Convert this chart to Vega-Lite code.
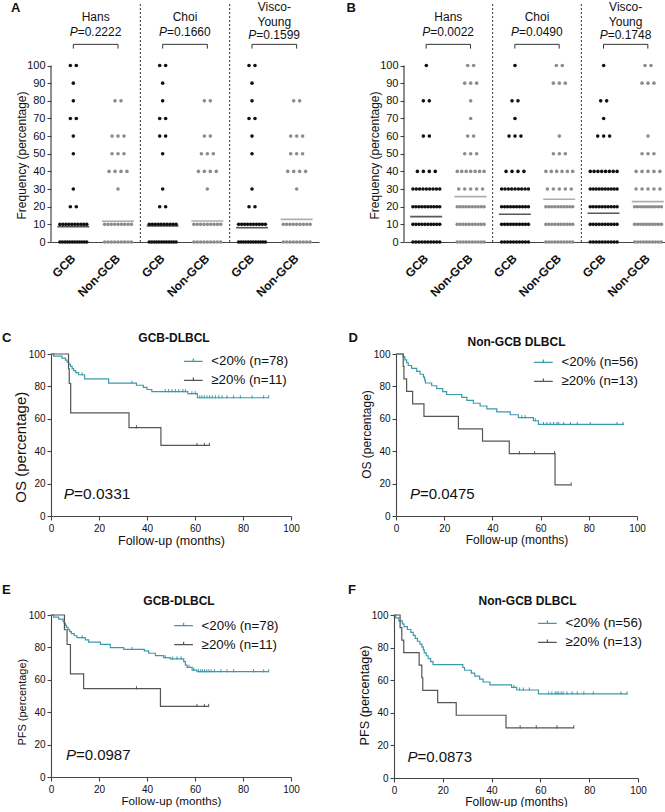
{
"$schema":"https://vega.github.io/schema/vega-lite/v6.json",
"padding":{"left":2,"top":0,"right":0,"bottom":0},
"config":{"font":"Liberation Sans","view":{"stroke":null},
"axis":{"grid":false,"domainColor":"#444","tickColor":"#444","labelColor":"#111","titleColor":"#111","titleFontWeight":"normal","labelOverlap":false,"domainWidth":1.1,"tickWidth":1.1,"tickSize":4,"labelPadding":2},
"text":{"color":"#111"}},
"spacing":32,
"resolve":{"scale":{"color":"independent"},"legend":{"color":"independent"}},
"vconcat":[
{"hconcat":[
{"width":268,"height":240,"layer":[
{"data":{"values":[
{"k":"HG","v":100},{"k":"HG","v":100},{"k":"HG","v":90},{"k":"HG","v":80},{"k":"HG","v":70},{"k":"HG","v":70},{"k":"HG","v":60},{"k":"HG","v":50},{"k":"HG","v":30},{"k":"HG","v":20},{"k":"HG","v":20},
{"k":"HG","v":10},{"k":"HG","v":10},{"k":"HG","v":10},{"k":"HG","v":10},{"k":"HG","v":10},{"k":"HG","v":10},{"k":"HG","v":10},{"k":"HG","v":10},{"k":"HG","v":10},{"k":"HG","v":10},
{"k":"HG","v":0},{"k":"HG","v":0},{"k":"HG","v":0},{"k":"HG","v":0},{"k":"HG","v":0},{"k":"HG","v":0},{"k":"HG","v":0},{"k":"HG","v":0},{"k":"HG","v":0},{"k":"HG","v":0},{"k":"HG","v":0},{"k":"HG","v":0},
{"k":"HN","v":80},{"k":"HN","v":80},{"k":"HN","v":60},{"k":"HN","v":60},{"k":"HN","v":60},{"k":"HN","v":50},{"k":"HN","v":50},{"k":"HN","v":50},{"k":"HN","v":40},{"k":"HN","v":40},{"k":"HN","v":40},{"k":"HN","v":40},{"k":"HN","v":30},
{"k":"HN","v":10},{"k":"HN","v":10},{"k":"HN","v":10},{"k":"HN","v":10},{"k":"HN","v":10},{"k":"HN","v":10},{"k":"HN","v":10},{"k":"HN","v":10},{"k":"HN","v":10},
{"k":"HN","v":0},{"k":"HN","v":0},{"k":"HN","v":0},{"k":"HN","v":0},{"k":"HN","v":0},{"k":"HN","v":0},{"k":"HN","v":0},{"k":"HN","v":0},{"k":"HN","v":0},
{"k":"CG","v":100},{"k":"CG","v":100},{"k":"CG","v":90},{"k":"CG","v":80},{"k":"CG","v":70},{"k":"CG","v":70},{"k":"CG","v":60},{"k":"CG","v":60},{"k":"CG","v":50},{"k":"CG","v":30},{"k":"CG","v":20},{"k":"CG","v":20},
{"k":"CG","v":10},{"k":"CG","v":10},{"k":"CG","v":10},{"k":"CG","v":10},{"k":"CG","v":10},{"k":"CG","v":10},{"k":"CG","v":10},{"k":"CG","v":10},{"k":"CG","v":10},{"k":"CG","v":10},
{"k":"CG","v":0},{"k":"CG","v":0},{"k":"CG","v":0},{"k":"CG","v":0},{"k":"CG","v":0},{"k":"CG","v":0},{"k":"CG","v":0},{"k":"CG","v":0},{"k":"CG","v":0},{"k":"CG","v":0},{"k":"CG","v":0},{"k":"CG","v":0},
{"k":"CN","v":80},{"k":"CN","v":80},{"k":"CN","v":60},{"k":"CN","v":60},{"k":"CN","v":50},{"k":"CN","v":50},{"k":"CN","v":50},{"k":"CN","v":40},{"k":"CN","v":40},{"k":"CN","v":40},{"k":"CN","v":40},{"k":"CN","v":30},
{"k":"CN","v":10},{"k":"CN","v":10},{"k":"CN","v":10},{"k":"CN","v":10},{"k":"CN","v":10},{"k":"CN","v":10},{"k":"CN","v":10},{"k":"CN","v":10},{"k":"CN","v":10},
{"k":"CN","v":0},{"k":"CN","v":0},{"k":"CN","v":0},{"k":"CN","v":0},{"k":"CN","v":0},{"k":"CN","v":0},{"k":"CN","v":0},{"k":"CN","v":0},{"k":"CN","v":0},
{"k":"VG","v":100},{"k":"VG","v":100},{"k":"VG","v":90},{"k":"VG","v":80},{"k":"VG","v":70},{"k":"VG","v":70},{"k":"VG","v":60},{"k":"VG","v":50},{"k":"VG","v":30},{"k":"VG","v":20},{"k":"VG","v":20},
{"k":"VG","v":10},{"k":"VG","v":10},{"k":"VG","v":10},{"k":"VG","v":10},{"k":"VG","v":10},{"k":"VG","v":10},{"k":"VG","v":10},{"k":"VG","v":10},{"k":"VG","v":10},{"k":"VG","v":10},
{"k":"VG","v":0},{"k":"VG","v":0},{"k":"VG","v":0},{"k":"VG","v":0},{"k":"VG","v":0},{"k":"VG","v":0},{"k":"VG","v":0},{"k":"VG","v":0},{"k":"VG","v":0},{"k":"VG","v":0},{"k":"VG","v":0},{"k":"VG","v":0},
{"k":"VN","v":80},{"k":"VN","v":80},{"k":"VN","v":60},{"k":"VN","v":60},{"k":"VN","v":60},{"k":"VN","v":50},{"k":"VN","v":50},{"k":"VN","v":50},{"k":"VN","v":40},{"k":"VN","v":40},{"k":"VN","v":40},{"k":"VN","v":40},{"k":"VN","v":30},
{"k":"VN","v":10},{"k":"VN","v":10},{"k":"VN","v":10},{"k":"VN","v":10},{"k":"VN","v":10},{"k":"VN","v":10},{"k":"VN","v":10},{"k":"VN","v":10},{"k":"VN","v":10},
{"k":"VN","v":0},{"k":"VN","v":0},{"k":"VN","v":0},{"k":"VN","v":0},{"k":"VN","v":0},{"k":"VN","v":0},{"k":"VN","v":0},{"k":"VN","v":0},{"k":"VN","v":0}
]},
"transform":[{"window":[{"op":"row_number","as":"r"}],"groupby":["k","v"]},{"joinaggregate":[{"op":"count","as":"n"}],"groupby":["k","v"]},{"calculate":"(datum.r-(datum.n+1)/2)*min(2,9/max(datum.n-1,1))","as":"o"}],
"mark":{"type":"circle","size":13,"opacity":1},
"encoding":{
"x":{"field":"k","type":"nominal","scale":{"type":"band","domain":["HG","HN","CG","CN","VG","VN"],"paddingInner":0,"paddingOuter":0},"axis":{"title":null,"labelExpr":"substring(datum.label,1,2)=='G'?'GCB':'Non-GCB'","labelAngle":-45,"labelAlign":"right","labelBaseline":"middle","labelFontWeight":"bold","labelFontSize":12,"ticks":false,"tickSize":0,"labelPadding":14,"domainWidth":1.2,"labelOverlap":false}},
"xOffset":{"field":"o","type":"quantitative","scale":{"domain":[-7.5,7.5],"nice":false,"zero":false}},
"y":{"field":"v","type":"quantitative","scale":{"domain":[0,136],"nice":false},"axis":{"title":"Frequency (percentage)","values":[0,10,20,30,40,50,60,70,80,90,100],"tickCount":30,"labelOverlap":false,"domain":false,"labelFontSize":11,"titleFontSize":12,"titleX":-30,"titleY":153,"titleBaseline":"middle","titleAlign":"center","titleAngle":-90}},
"color":{"field":"k","type":"nominal","scale":{"domain":["HG","HN","CG","CN","VG","VN"],"range":["#111111","#8c8c8c","#111111","#8c8c8c","#111111","#8c8c8c"]},"legend":null}}},
{"data":{"values":[{"k":"HG","m":8.7},{"k":"HN","m":11.8},{"k":"CG","m":9.1},{"k":"CN","m":11.9},{"k":"VG","m":8.1},{"k":"VN","m":12.8}]},
"mark":{"type":"tick","size":32,"thickness":1.6},
"encoding":{"x":{"field":"k","type":"nominal","scale":{"type":"band","domain":["HG","HN","CG","CN","VG","VN"],"paddingInner":0,"paddingOuter":0}},"y":{"field":"m","type":"quantitative","scale":{"domain":[0,136],"nice":false}},"color":{"field":"k","type":"nominal","scale":{"domain":["HG","HN","CG","CN","VG","VN"],"range":["#111111","#8c8c8c","#111111","#8c8c8c","#111111","#8c8c8c"]},"legend":null}}},
{"data":{"values":[{"k":"CG"},{"k":"VG"}]},"mark":{"type":"rule","strokeDash":[2,2],"color":"#333","strokeWidth":1},
"encoding":{"x":{"field":"k","type":"nominal","bandPosition":0,"scale":{"type":"band","domain":["HG","HN","CG","CN","VG","VN"],"paddingInner":0,"paddingOuter":0}},"y":{"datum":0,"type":"quantitative","scale":{"domain":[0,136],"nice":false}},"y2":{"datum":136}}},
{"data":{"values":[{"k":"HG"}]},"mark":{"type":"rule","color":"#444","strokeWidth":1.2},
"encoding":{"x":{"field":"k","type":"nominal","bandPosition":0,"scale":{"type":"band","domain":["HG","HN","CG","CN","VG","VN"],"paddingInner":0,"paddingOuter":0}},"y":{"datum":0,"type":"quantitative","scale":{"domain":[0,136],"nice":false}},"y2":{"datum":100}}},
{"data":{"values":[{"k":"HG","k2":"HN"},{"k":"CG","k2":"CN"},{"k":"VG","k2":"VN"}]},"mark":{"type":"rule","color":"#333","strokeWidth":1},
"encoding":{"x":{"field":"k","type":"nominal","scale":{"type":"band","domain":["HG","HN","CG","CN","VG","VN"],"paddingInner":0,"paddingOuter":0}},"x2":{"field":"k2"},"y":{"datum":112,"type":"quantitative","scale":{"domain":[0,136],"nice":false}}}},
{"data":{"values":[{"k":"HG"},{"k":"HN"},{"k":"CG"},{"k":"CN"},{"k":"VG"},{"k":"VN"}]},"mark":{"type":"rule","color":"#333","strokeWidth":1},
"encoding":{"x":{"field":"k","type":"nominal","scale":{"type":"band","domain":["HG","HN","CG","CN","VG","VN"],"paddingInner":0,"paddingOuter":0}},"y":{"datum":109.6,"type":"quantitative","scale":{"domain":[0,136],"nice":false}},"y2":{"datum":112}}},
{"data":{"values":[{"k":"HG","t":"Hans"},{"k":"CG","t":"Choi"}]},"mark":{"type":"text","fontSize":12,"align":"center","baseline":"middle"},
"encoding":{"x":{"field":"k","type":"nominal","bandPosition":1,"scale":{"type":"band","domain":["HG","HN","CG","CN","VG","VN"],"paddingInner":0,"paddingOuter":0}},"y":{"datum":127.4,"type":"quantitative","scale":{"domain":[0,136],"nice":false}},"text":{"field":"t"}}},
{"data":{"values":[{"k":"VG","t":"Visco-"}]},"mark":{"type":"text","fontSize":12,"align":"center","baseline":"middle"},
"encoding":{"x":{"field":"k","type":"nominal","bandPosition":1,"scale":{"type":"band","domain":["HG","HN","CG","CN","VG","VN"],"paddingInner":0,"paddingOuter":0}},"y":{"datum":133.3,"type":"quantitative","scale":{"domain":[0,136],"nice":false}},"text":{"field":"t"}}},
{"data":{"values":[{"k":"VG","t":"Young"}]},"mark":{"type":"text","fontSize":12,"align":"center","baseline":"middle"},
"encoding":{"x":{"field":"k","type":"nominal","bandPosition":1,"scale":{"type":"band","domain":["HG","HN","CG","CN","VG","VN"],"paddingInner":0,"paddingOuter":0}},"y":{"datum":124.6,"type":"quantitative","scale":{"domain":[0,136],"nice":false}},"text":{"field":"t"}}},
{"data":{"values":[{"k":"HG","t":"P"},{"k":"CG","t":"P"}]},"mark":{"type":"text","fontSize":12,"fontStyle":"italic","align":"right","baseline":"middle","dx":-18},
"encoding":{"x":{"field":"k","type":"nominal","bandPosition":1,"scale":{"type":"band","domain":["HG","HN","CG","CN","VG","VN"],"paddingInner":0,"paddingOuter":0}},"y":{"datum":118.9,"type":"quantitative","scale":{"domain":[0,136],"nice":false}},"text":{"field":"t"}}},
{"data":{"values":[{"k":"HG","t":"=0.2222"},{"k":"CG","t":"=0.1660"}]},"mark":{"type":"text","fontSize":12,"align":"left","baseline":"middle","dx":-18},
"encoding":{"x":{"field":"k","type":"nominal","bandPosition":1,"scale":{"type":"band","domain":["HG","HN","CG","CN","VG","VN"],"paddingInner":0,"paddingOuter":0}},"y":{"datum":118.9,"type":"quantitative","scale":{"domain":[0,136],"nice":false}},"text":{"field":"t"}}},
{"data":{"values":[{"k":"VG","t":"P"}]},"mark":{"type":"text","fontSize":12,"fontStyle":"italic","align":"right","baseline":"middle","dx":-18},
"encoding":{"x":{"field":"k","type":"nominal","bandPosition":1,"scale":{"type":"band","domain":["HG","HN","CG","CN","VG","VN"],"paddingInner":0,"paddingOuter":0}},"y":{"datum":117.1,"type":"quantitative","scale":{"domain":[0,136],"nice":false}},"text":{"field":"t"}}},
{"data":{"values":[{"k":"VG","t":"=0.1599"}]},"mark":{"type":"text","fontSize":12,"align":"left","baseline":"middle","dx":-18},
"encoding":{"x":{"field":"k","type":"nominal","bandPosition":1,"scale":{"type":"band","domain":["HG","HN","CG","CN","VG","VN"],"paddingInner":0,"paddingOuter":0}},"y":{"datum":117.1,"type":"quantitative","scale":{"domain":[0,136],"nice":false}},"text":{"field":"t"}}},
{"data":{"values":[{"k":"HG","t":"A"}]},"mark":{"type":"text","fontSize":13,"fontWeight":"bold","align":"left","baseline":"middle","dx":-40,"dy":6},
"encoding":{"x":{"field":"k","type":"nominal","bandPosition":0,"scale":{"type":"band","domain":["HG","HN","CG","CN","VG","VN"],"paddingInner":0,"paddingOuter":0}},"y":{"datum":136,"type":"quantitative","scale":{"domain":[0,136],"nice":false}},"text":{"field":"t"}}}
]},
{"width":266,"height":240,"layer":[
{"data":{"values":[
{"k":"HG","v":100},{"k":"HG","v":80},{"k":"HG","v":80},{"k":"HG","v":60},{"k":"HG","v":60},{"k":"HG","v":40},{"k":"HG","v":40},{"k":"HG","v":40},{"k":"HG","v":40},
{"k":"HG","v":30},{"k":"HG","v":30},{"k":"HG","v":30},{"k":"HG","v":30},{"k":"HG","v":30},{"k":"HG","v":30},{"k":"HG","v":30},{"k":"HG","v":30},{"k":"HG","v":30},
{"k":"HG","v":20},{"k":"HG","v":20},{"k":"HG","v":20},{"k":"HG","v":20},{"k":"HG","v":20},{"k":"HG","v":20},{"k":"HG","v":20},{"k":"HG","v":20},{"k":"HG","v":20},{"k":"HG","v":20},
{"k":"HG","v":10},{"k":"HG","v":10},{"k":"HG","v":10},{"k":"HG","v":10},{"k":"HG","v":10},{"k":"HG","v":10},{"k":"HG","v":10},{"k":"HG","v":10},{"k":"HG","v":10},{"k":"HG","v":10},
{"k":"HG","v":0},{"k":"HG","v":0},{"k":"HG","v":0},{"k":"HG","v":0},{"k":"HG","v":0},{"k":"HG","v":0},{"k":"HG","v":0},{"k":"HG","v":0},{"k":"HG","v":0},{"k":"HG","v":0},
{"k":"HN","v":100},{"k":"HN","v":100},{"k":"HN","v":90},{"k":"HN","v":90},{"k":"HN","v":90},{"k":"HN","v":80},{"k":"HN","v":70},{"k":"HN","v":60},{"k":"HN","v":60},{"k":"HN","v":50},{"k":"HN","v":50},{"k":"HN","v":50},
{"k":"HN","v":40},{"k":"HN","v":40},{"k":"HN","v":40},{"k":"HN","v":40},{"k":"HN","v":40},{"k":"HN","v":40},{"k":"HN","v":40},
{"k":"HN","v":30},{"k":"HN","v":30},{"k":"HN","v":30},{"k":"HN","v":30},{"k":"HN","v":30},
{"k":"HN","v":20},{"k":"HN","v":20},{"k":"HN","v":20},{"k":"HN","v":20},{"k":"HN","v":20},{"k":"HN","v":20},{"k":"HN","v":20},{"k":"HN","v":20},{"k":"HN","v":20},{"k":"HN","v":20},
{"k":"HN","v":10},{"k":"HN","v":10},{"k":"HN","v":10},{"k":"HN","v":10},{"k":"HN","v":10},{"k":"HN","v":10},{"k":"HN","v":10},{"k":"HN","v":10},{"k":"HN","v":10},{"k":"HN","v":10},
{"k":"HN","v":0},{"k":"HN","v":0},{"k":"HN","v":0},{"k":"HN","v":0},{"k":"HN","v":0},{"k":"HN","v":0},{"k":"HN","v":0},{"k":"HN","v":0},{"k":"HN","v":0},{"k":"HN","v":0},
{"k":"CG","v":100},{"k":"CG","v":80},{"k":"CG","v":80},{"k":"CG","v":70},{"k":"CG","v":60},{"k":"CG","v":60},{"k":"CG","v":60},{"k":"CG","v":40},{"k":"CG","v":40},{"k":"CG","v":40},{"k":"CG","v":40},
{"k":"CG","v":30},{"k":"CG","v":30},{"k":"CG","v":30},{"k":"CG","v":30},{"k":"CG","v":30},{"k":"CG","v":30},{"k":"CG","v":30},{"k":"CG","v":30},{"k":"CG","v":30},
{"k":"CG","v":20},{"k":"CG","v":20},{"k":"CG","v":20},{"k":"CG","v":20},{"k":"CG","v":20},{"k":"CG","v":20},{"k":"CG","v":20},{"k":"CG","v":20},{"k":"CG","v":20},{"k":"CG","v":20},
{"k":"CG","v":10},{"k":"CG","v":10},{"k":"CG","v":10},{"k":"CG","v":10},{"k":"CG","v":10},{"k":"CG","v":10},{"k":"CG","v":10},{"k":"CG","v":10},{"k":"CG","v":10},{"k":"CG","v":10},
{"k":"CG","v":0},{"k":"CG","v":0},{"k":"CG","v":0},{"k":"CG","v":0},{"k":"CG","v":0},{"k":"CG","v":0},{"k":"CG","v":0},{"k":"CG","v":0},{"k":"CG","v":0},{"k":"CG","v":0},
{"k":"CN","v":100},{"k":"CN","v":100},{"k":"CN","v":90},{"k":"CN","v":90},{"k":"CN","v":90},{"k":"CN","v":60},{"k":"CN","v":50},{"k":"CN","v":50},{"k":"CN","v":50},
{"k":"CN","v":40},{"k":"CN","v":40},{"k":"CN","v":40},{"k":"CN","v":40},{"k":"CN","v":40},{"k":"CN","v":40},
{"k":"CN","v":30},{"k":"CN","v":30},{"k":"CN","v":30},{"k":"CN","v":30},{"k":"CN","v":30},
{"k":"CN","v":20},{"k":"CN","v":20},{"k":"CN","v":20},{"k":"CN","v":20},{"k":"CN","v":20},{"k":"CN","v":20},{"k":"CN","v":20},{"k":"CN","v":20},{"k":"CN","v":20},{"k":"CN","v":20},
{"k":"CN","v":10},{"k":"CN","v":10},{"k":"CN","v":10},{"k":"CN","v":10},{"k":"CN","v":10},{"k":"CN","v":10},{"k":"CN","v":10},{"k":"CN","v":10},{"k":"CN","v":10},{"k":"CN","v":10},
{"k":"CN","v":0},{"k":"CN","v":0},{"k":"CN","v":0},{"k":"CN","v":0},{"k":"CN","v":0},{"k":"CN","v":0},{"k":"CN","v":0},{"k":"CN","v":0},{"k":"CN","v":0},{"k":"CN","v":0},
{"k":"VG","v":100},{"k":"VG","v":80},{"k":"VG","v":80},{"k":"VG","v":70},{"k":"VG","v":60},{"k":"VG","v":60},{"k":"VG","v":60},
{"k":"VG","v":40},{"k":"VG","v":40},{"k":"VG","v":40},{"k":"VG","v":40},{"k":"VG","v":40},{"k":"VG","v":40},{"k":"VG","v":40},{"k":"VG","v":40},
{"k":"VG","v":30},{"k":"VG","v":30},{"k":"VG","v":30},{"k":"VG","v":30},{"k":"VG","v":30},{"k":"VG","v":30},{"k":"VG","v":30},{"k":"VG","v":30},{"k":"VG","v":30},{"k":"VG","v":30},
{"k":"VG","v":20},{"k":"VG","v":20},{"k":"VG","v":20},{"k":"VG","v":20},{"k":"VG","v":20},{"k":"VG","v":20},{"k":"VG","v":20},{"k":"VG","v":20},{"k":"VG","v":20},{"k":"VG","v":20},
{"k":"VG","v":10},{"k":"VG","v":10},{"k":"VG","v":10},{"k":"VG","v":10},{"k":"VG","v":10},{"k":"VG","v":10},{"k":"VG","v":10},{"k":"VG","v":10},{"k":"VG","v":10},{"k":"VG","v":10},
{"k":"VG","v":0},{"k":"VG","v":0},{"k":"VG","v":0},{"k":"VG","v":0},{"k":"VG","v":0},{"k":"VG","v":0},{"k":"VG","v":0},{"k":"VG","v":0},{"k":"VG","v":0},{"k":"VG","v":0},
{"k":"VN","v":100},{"k":"VN","v":100},{"k":"VN","v":90},{"k":"VN","v":90},{"k":"VN","v":90},{"k":"VN","v":60},{"k":"VN","v":50},{"k":"VN","v":50},{"k":"VN","v":50},
{"k":"VN","v":40},{"k":"VN","v":40},{"k":"VN","v":40},{"k":"VN","v":40},{"k":"VN","v":40},
{"k":"VN","v":30},{"k":"VN","v":30},{"k":"VN","v":30},{"k":"VN","v":30},{"k":"VN","v":30},
{"k":"VN","v":20},{"k":"VN","v":20},{"k":"VN","v":20},{"k":"VN","v":20},{"k":"VN","v":20},{"k":"VN","v":20},{"k":"VN","v":20},{"k":"VN","v":20},{"k":"VN","v":20},{"k":"VN","v":20},
{"k":"VN","v":10},{"k":"VN","v":10},{"k":"VN","v":10},{"k":"VN","v":10},{"k":"VN","v":10},{"k":"VN","v":10},{"k":"VN","v":10},{"k":"VN","v":10},{"k":"VN","v":10},{"k":"VN","v":10},
{"k":"VN","v":0},{"k":"VN","v":0},{"k":"VN","v":0},{"k":"VN","v":0},{"k":"VN","v":0},{"k":"VN","v":0},{"k":"VN","v":0},{"k":"VN","v":0},{"k":"VN","v":0},{"k":"VN","v":0}
]},
"transform":[{"window":[{"op":"row_number","as":"r"}],"groupby":["k","v"]},{"joinaggregate":[{"op":"count","as":"n"}],"groupby":["k","v"]},{"calculate":"(datum.r-(datum.n+1)/2)*min(2,9/max(datum.n-1,1))","as":"o"}],
"mark":{"type":"circle","size":13,"opacity":1},
"encoding":{
"x":{"field":"k","type":"nominal","scale":{"type":"band","domain":["HG","HN","CG","CN","VG","VN"],"paddingInner":0,"paddingOuter":0},"axis":{"title":null,"labelExpr":"substring(datum.label,1,2)=='G'?'GCB':'Non-GCB'","labelAngle":-45,"labelAlign":"right","labelBaseline":"middle","labelFontWeight":"bold","labelFontSize":12,"ticks":false,"tickSize":0,"labelPadding":14,"domainWidth":1.2,"labelOverlap":false}},
"xOffset":{"field":"o","type":"quantitative","scale":{"domain":[-7.5,7.5],"nice":false,"zero":false}},
"y":{"field":"v","type":"quantitative","scale":{"domain":[0,136],"nice":false},"axis":{"title":"Frequency (percentage)","values":[0,10,20,30,40,50,60,70,80,90,100],"tickCount":30,"labelOverlap":false,"domain":false,"labelFontSize":11,"titleFontSize":12,"titleX":-30,"titleY":153,"titleBaseline":"middle","titleAlign":"center","titleAngle":-90}},
"color":{"field":"k","type":"nominal","scale":{"domain":["HG","HN","CG","CN","VG","VN"],"range":["#111111","#8c8c8c","#111111","#8c8c8c","#111111","#8c8c8c"]},"legend":null}}},
{"data":{"values":[{"k":"HG","m":14.4},{"k":"HN","m":25.7},{"k":"CG","m":15.7},{"k":"CN","m":24.2},{"k":"VG","m":16.3},{"k":"VN","m":22.9}]},
"mark":{"type":"tick","size":32,"thickness":1.6},
"encoding":{"x":{"field":"k","type":"nominal","scale":{"type":"band","domain":["HG","HN","CG","CN","VG","VN"],"paddingInner":0,"paddingOuter":0}},"y":{"field":"m","type":"quantitative","scale":{"domain":[0,136],"nice":false}},"color":{"field":"k","type":"nominal","scale":{"domain":["HG","HN","CG","CN","VG","VN"],"range":["#111111","#8c8c8c","#111111","#8c8c8c","#111111","#8c8c8c"]},"legend":null}}},
{"data":{"values":[{"k":"CG"},{"k":"VG"}]},"mark":{"type":"rule","strokeDash":[2,2],"color":"#333","strokeWidth":1},
"encoding":{"x":{"field":"k","type":"nominal","bandPosition":0,"scale":{"type":"band","domain":["HG","HN","CG","CN","VG","VN"],"paddingInner":0,"paddingOuter":0}},"y":{"datum":0,"type":"quantitative","scale":{"domain":[0,136],"nice":false}},"y2":{"datum":136}}},
{"data":{"values":[{"k":"HG"}]},"mark":{"type":"rule","color":"#444","strokeWidth":1.2},
"encoding":{"x":{"field":"k","type":"nominal","bandPosition":0,"scale":{"type":"band","domain":["HG","HN","CG","CN","VG","VN"],"paddingInner":0,"paddingOuter":0}},"y":{"datum":0,"type":"quantitative","scale":{"domain":[0,136],"nice":false}},"y2":{"datum":100}}},
{"data":{"values":[{"k":"HG","k2":"HN"},{"k":"CG","k2":"CN"},{"k":"VG","k2":"VN"}]},"mark":{"type":"rule","color":"#333","strokeWidth":1},
"encoding":{"x":{"field":"k","type":"nominal","scale":{"type":"band","domain":["HG","HN","CG","CN","VG","VN"],"paddingInner":0,"paddingOuter":0}},"x2":{"field":"k2"},"y":{"datum":112,"type":"quantitative","scale":{"domain":[0,136],"nice":false}}}},
{"data":{"values":[{"k":"HG"},{"k":"HN"},{"k":"CG"},{"k":"CN"},{"k":"VG"},{"k":"VN"}]},"mark":{"type":"rule","color":"#333","strokeWidth":1},
"encoding":{"x":{"field":"k","type":"nominal","scale":{"type":"band","domain":["HG","HN","CG","CN","VG","VN"],"paddingInner":0,"paddingOuter":0}},"y":{"datum":109.6,"type":"quantitative","scale":{"domain":[0,136],"nice":false}},"y2":{"datum":112}}},
{"data":{"values":[{"k":"HG","t":"Hans"},{"k":"CG","t":"Choi"}]},"mark":{"type":"text","fontSize":12,"align":"center","baseline":"middle"},
"encoding":{"x":{"field":"k","type":"nominal","bandPosition":1,"scale":{"type":"band","domain":["HG","HN","CG","CN","VG","VN"],"paddingInner":0,"paddingOuter":0}},"y":{"datum":127.4,"type":"quantitative","scale":{"domain":[0,136],"nice":false}},"text":{"field":"t"}}},
{"data":{"values":[{"k":"VG","t":"Visco-"}]},"mark":{"type":"text","fontSize":12,"align":"center","baseline":"middle"},
"encoding":{"x":{"field":"k","type":"nominal","bandPosition":1,"scale":{"type":"band","domain":["HG","HN","CG","CN","VG","VN"],"paddingInner":0,"paddingOuter":0}},"y":{"datum":133.3,"type":"quantitative","scale":{"domain":[0,136],"nice":false}},"text":{"field":"t"}}},
{"data":{"values":[{"k":"VG","t":"Young"}]},"mark":{"type":"text","fontSize":12,"align":"center","baseline":"middle"},
"encoding":{"x":{"field":"k","type":"nominal","bandPosition":1,"scale":{"type":"band","domain":["HG","HN","CG","CN","VG","VN"],"paddingInner":0,"paddingOuter":0}},"y":{"datum":124.6,"type":"quantitative","scale":{"domain":[0,136],"nice":false}},"text":{"field":"t"}}},
{"data":{"values":[{"k":"HG","t":"P"},{"k":"CG","t":"P"}]},"mark":{"type":"text","fontSize":12,"fontStyle":"italic","align":"right","baseline":"middle","dx":-18},
"encoding":{"x":{"field":"k","type":"nominal","bandPosition":1,"scale":{"type":"band","domain":["HG","HN","CG","CN","VG","VN"],"paddingInner":0,"paddingOuter":0}},"y":{"datum":118.9,"type":"quantitative","scale":{"domain":[0,136],"nice":false}},"text":{"field":"t"}}},
{"data":{"values":[{"k":"HG","t":"=0.0022"},{"k":"CG","t":"=0.0490"}]},"mark":{"type":"text","fontSize":12,"align":"left","baseline":"middle","dx":-18},
"encoding":{"x":{"field":"k","type":"nominal","bandPosition":1,"scale":{"type":"band","domain":["HG","HN","CG","CN","VG","VN"],"paddingInner":0,"paddingOuter":0}},"y":{"datum":118.9,"type":"quantitative","scale":{"domain":[0,136],"nice":false}},"text":{"field":"t"}}},
{"data":{"values":[{"k":"VG","t":"P"}]},"mark":{"type":"text","fontSize":12,"fontStyle":"italic","align":"right","baseline":"middle","dx":-18},
"encoding":{"x":{"field":"k","type":"nominal","bandPosition":1,"scale":{"type":"band","domain":["HG","HN","CG","CN","VG","VN"],"paddingInner":0,"paddingOuter":0}},"y":{"datum":117.1,"type":"quantitative","scale":{"domain":[0,136],"nice":false}},"text":{"field":"t"}}},
{"data":{"values":[{"k":"VG","t":"=0.1748"}]},"mark":{"type":"text","fontSize":12,"align":"left","baseline":"middle","dx":-18},
"encoding":{"x":{"field":"k","type":"nominal","bandPosition":1,"scale":{"type":"band","domain":["HG","HN","CG","CN","VG","VN"],"paddingInner":0,"paddingOuter":0}},"y":{"datum":117.1,"type":"quantitative","scale":{"domain":[0,136],"nice":false}},"text":{"field":"t"}}},
{"data":{"values":[{"k":"HG","t":"B"}]},"mark":{"type":"text","fontSize":13,"fontWeight":"bold","align":"left","baseline":"middle","dx":-57.6,"dy":6},
"encoding":{"x":{"field":"k","type":"nominal","bandPosition":0,"scale":{"type":"band","domain":["HG","HN","CG","CN","VG","VN"],"paddingInner":0,"paddingOuter":0}},"y":{"datum":136,"type":"quantitative","scale":{"domain":[0,136],"nice":false}},"text":{"field":"t"}}}
]}
],"spacing":27,"resolve":{"scale":{"color":"independent"},"legend":{"color":"independent"}}},
{"vconcat":[
{"hconcat":[
{"width":240,"height":162,"layer":[
{"data":{"values":[
{"g":"L","t":0,"s":100},{"g":"L","t":1.1,"s":98.7},{"g":"L","t":4.6,"s":97.4},{"g":"L","t":6.0,"s":96.2},{"g":"L","t":6.7,"s":94.9},{"g":"L","t":7.4,"s":93.6},{"g":"L","t":8.1,"s":92.3},{"g":"L","t":8.8,"s":91.0},{"g":"L","t":9.4,"s":89.7},{"g":"L","t":10.3,"s":88.5},{"g":"L","t":11.5,"s":87.2},{"g":"L","t":14.0,"s":84.6},{"g":"L","t":24.0,"s":82.0},{"g":"L","t":35.6,"s":80.7},{"g":"L","t":38.5,"s":79.4},{"g":"L","t":40.0,"s":78.1},{"g":"L","t":42.0,"s":76.8},{"g":"L","t":57.0,"s":75.5},{"g":"L","t":61.0,"s":73.0},{"g":"L","t":90.7,"s":73.0},
{"g":"H","t":0,"s":100},{"g":"H","t":7.3,"s":90.9},{"g":"H","t":7.6,"s":81.8},{"g":"H","t":8.2,"s":63.6},{"g":"H","t":32.5,"s":54.5},{"g":"H","t":45.8,"s":43.6},{"g":"H","t":66.0,"s":43.6}
]},
"mark":{"type":"line","interpolate":"step-after","strokeWidth":1.2},
"encoding":{
"x":{"field":"t","type":"quantitative","scale":{"domain":[0,100],"nice":false},"axis":{"title":"Follow-up (months)","values":[0,20,40,60,80,100],"tickCount":30,"labelOverlap":false,"labelFlush":false,"labelFontSize":10,"titleFontSize":12.5,"titlePadding":1,"labelPadding":3}},
"y":{"field":"s","type":"quantitative","scale":{"domain":[0,100],"nice":false},"axis":{"title":"OS (percentage)","values":[0,20,40,60,80,100],"tickCount":30,"labelOverlap":false,"labelFontSize":10,"titleFontSize":15,"titleX":-30.7,"titleY":92.7,"titleBaseline":"middle","titleAlign":"center","titleAngle":-90}},
"color":{"field":"g","type":"nominal","scale":{"domain":["L","H"],"range":["#3a9bab","#555555"]},"legend":{"title":null,"orient":"none","legendX":132.3,"legendY":-2.6,"padding":0,"symbolType":"M-1,0H1M0,0V-0.3","symbolSize":350,"symbolStrokeWidth":1.2,"labelFontSize":13.3,"labelOffset":8,"rowPadding":2,"labelColor":"#111","labelExpr":"datum.label=='L'?'<20% (n=78)':'≥20% (n=11)'"}}}},
{"data":{"values":[
{"g":"L","t":12.9,"s":87.2},{"g":"L","t":33.7,"s":82.0},{"g":"L","t":47.6,"s":76.8},{"g":"L","t":49.0,"s":76.8},{"g":"L","t":50.4,"s":76.8},{"g":"L","t":51.8,"s":76.8},{"g":"L","t":53.2,"s":76.8},{"g":"L","t":55.0,"s":76.8},{"g":"L","t":56.0,"s":76.8},{"g":"L","t":58.7,"s":75.5},{"g":"L","t":60.1,"s":75.5},{"g":"L","t":62.0,"s":73.0},{"g":"L","t":62.9,"s":73.0},{"g":"L","t":63.9,"s":73.0},{"g":"L","t":65.0,"s":73.0},{"g":"L","t":66.1,"s":73.0},{"g":"L","t":67.2,"s":73.0},{"g":"L","t":68.5,"s":73.0},{"g":"L","t":69.9,"s":73.0},{"g":"L","t":71.3,"s":73.0},{"g":"L","t":73.3,"s":73.0},{"g":"L","t":76.1,"s":73.0},{"g":"L","t":78.9,"s":73.0},{"g":"L","t":83.8,"s":73.0},{"g":"L","t":88.6,"s":73.0},{"g":"L","t":90.7,"s":73.0},
{"g":"H","t":35.6,"s":54.5},{"g":"H","t":60.8,"s":43.6},{"g":"H","t":63.9,"s":43.6},{"g":"H","t":66.0,"s":43.6}
]},
"mark":{"type":"point","shape":"M0,0.3V-1","size":25,"filled":false,"strokeWidth":1,"opacity":1},
"encoding":{"x":{"field":"t","type":"quantitative"},"y":{"field":"s","type":"quantitative"},"color":{"field":"g","type":"nominal","scale":{"domain":["L","H"],"range":["#3a9bab","#555555"]}}}},
{"data":{"values":[{"t":"C"}]},"mark":{"type":"text","fontSize":13,"fontWeight":"bold","align":"left","baseline":"middle","dx":-49,"dy":-16},
"encoding":{"x":{"datum":0,"type":"quantitative"},"y":{"datum":100,"type":"quantitative"},"text":{"field":"t"}}},
{"data":{"values":[{"t":"GCB-DLBCL"}]},"mark":{"type":"text","fontSize":12,"fontWeight":"bold","align":"center","baseline":"middle","dx":3,"dy":-15.7},
"encoding":{"x":{"datum":50,"type":"quantitative"},"y":{"datum":100,"type":"quantitative"},"text":{"field":"t"}}},
{"data":{"values":[{"t":"P"}]},"mark":{"type":"text","fontSize":15.5,"fontStyle":"italic","align":"left","baseline":"middle"},
"encoding":{"x":{"datum":5.3,"type":"quantitative"},"y":{"datum":13.4,"type":"quantitative"},"text":{"field":"t"}}},
{"data":{"values":[{"t":"=0.0331"}]},"mark":{"type":"text","fontSize":15.5,"align":"left","baseline":"middle","dx":10.3},
"encoding":{"x":{"datum":5.3,"type":"quantitative"},"y":{"datum":13.4,"type":"quantitative"},"text":{"field":"t"}}}
]},
{"width":241,"height":162,"layer":[
{"data":{"values":[
{"g":"L","t":0,"s":100},{"g":"L","t":3.0,"s":98.2},{"g":"L","t":3.7,"s":96.4},{"g":"L","t":4.4,"s":94.6},{"g":"L","t":5.1,"s":92.9},{"g":"L","t":6.5,"s":91.1},{"g":"L","t":8.6,"s":89.3},{"g":"L","t":10.0,"s":87.5},{"g":"L","t":11.4,"s":85.7},{"g":"L","t":11.9,"s":83.9},{"g":"L","t":12.2,"s":82.1},{"g":"L","t":14.8,"s":80.4},{"g":"L","t":16.9,"s":78.6},{"g":"L","t":19.4,"s":76.8},{"g":"L","t":21.0,"s":75.0},{"g":"L","t":27.3,"s":73.2},{"g":"L","t":29.4,"s":71.4},{"g":"L","t":32.1,"s":69.6},{"g":"L","t":34.9,"s":67.9},{"g":"L","t":37.7,"s":66.1},{"g":"L","t":41.8,"s":64.3},{"g":"L","t":47.4,"s":62.5},{"g":"L","t":50.8,"s":60.7},{"g":"L","t":57.0,"s":58.8},{"g":"L","t":59.1,"s":56.5},{"g":"L","t":94.5,"s":56.5},
{"g":"H","t":0,"s":100},{"g":"H","t":3.0,"s":92.3},{"g":"H","t":3.3,"s":84.6},{"g":"H","t":4.4,"s":76.9},{"g":"H","t":6.9,"s":69.2},{"g":"H","t":11.6,"s":61.5},{"g":"H","t":25.9,"s":53.8},{"g":"H","t":35.9,"s":46.2},{"g":"H","t":47.0,"s":38.5},{"g":"H","t":66.0,"s":19.2},{"g":"H","t":72.7,"s":19.2}
]},
"mark":{"type":"line","interpolate":"step-after","strokeWidth":1.2},
"encoding":{
"x":{"field":"t","type":"quantitative","scale":{"domain":[0,100],"nice":false},"axis":{"title":"Follow-up (months)","values":[0,20,40,60,80,100],"tickCount":30,"labelOverlap":false,"labelFlush":false,"labelFontSize":10,"titleFontSize":12,"titlePadding":1,"labelPadding":3}},
"y":{"field":"s","type":"quantitative","scale":{"domain":[0,100],"nice":false},"axis":{"title":"OS (percentage)","values":[0,20,40,60,80,100],"tickCount":30,"labelOverlap":false,"labelFontSize":10,"titleFontSize":12,"titleX":-29.3,"titleY":80,"titleBaseline":"middle","titleAlign":"center","titleAngle":-90}},
"color":{"field":"g","type":"nominal","scale":{"domain":["L","H"],"range":["#3a9bab","#555555"]},"legend":{"title":null,"orient":"none","legendX":137.4,"legendY":-1.6,"padding":0,"symbolType":"M-1,0H1M0,0V-0.3","symbolSize":350,"symbolStrokeWidth":1.2,"labelFontSize":13.3,"labelOffset":8,"rowPadding":2,"labelColor":"#111","labelExpr":"datum.label=='L'?'<20% (n=56)':'≥20% (n=13)'"}}}},
{"data":{"values":[
{"g":"L","t":52.2,"s":60.7},{"g":"L","t":53.6,"s":60.7},{"g":"L","t":57.8,"s":58.8},{"g":"L","t":61.2,"s":56.5},{"g":"L","t":62.6,"s":56.5},{"g":"L","t":64.0,"s":56.5},{"g":"L","t":65.4,"s":56.5},{"g":"L","t":66.8,"s":56.5},{"g":"L","t":67.5,"s":56.5},{"g":"L","t":69.6,"s":56.5},{"g":"L","t":72.4,"s":56.5},{"g":"L","t":75.2,"s":56.5},{"g":"L","t":80.6,"s":56.5},{"g":"L","t":91.7,"s":56.5},{"g":"L","t":94.2,"s":56.5},
{"g":"H","t":51.2,"s":38.5},{"g":"H","t":57.5,"s":38.5},{"g":"H","t":65.8,"s":38.5},{"g":"H","t":72.7,"s":19.2}
]},
"mark":{"type":"point","shape":"M0,0.3V-1","size":25,"filled":false,"strokeWidth":1,"opacity":1},
"encoding":{"x":{"field":"t","type":"quantitative"},"y":{"field":"s","type":"quantitative"},"color":{"field":"g","type":"nominal","scale":{"domain":["L","H"],"range":["#3a9bab","#555555"]}}}},
{"data":{"values":[{"t":"D"}]},"mark":{"type":"text","fontSize":13,"fontWeight":"bold","align":"left","baseline":"middle","dx":-47.6,"dy":-16.5},
"encoding":{"x":{"datum":0,"type":"quantitative"},"y":{"datum":100,"type":"quantitative"},"text":{"field":"t"}}},
{"data":{"values":[{"t":"Non-GCB DLBCL"}]},"mark":{"type":"text","fontSize":12,"fontWeight":"bold","align":"center","baseline":"middle","dx":0,"dy":-12.3},
"encoding":{"x":{"datum":50,"type":"quantitative"},"y":{"datum":100,"type":"quantitative"},"text":{"field":"t"}}},
{"data":{"values":[{"t":"P"}]},"mark":{"type":"text","fontSize":15,"fontStyle":"italic","align":"left","baseline":"middle"},
"encoding":{"x":{"datum":5.8,"type":"quantitative"},"y":{"datum":13.4,"type":"quantitative"},"text":{"field":"t"}}},
{"data":{"values":[{"t":"=0.0475"}]},"mark":{"type":"text","fontSize":15,"align":"left","baseline":"middle","dx":10},
"encoding":{"x":{"datum":5.8,"type":"quantitative"},"y":{"datum":13.4,"type":"quantitative"},"text":{"field":"t"}}}
]}
],"spacing":48,"resolve":{"scale":{"color":"independent"},"legend":{"color":"independent"}}},
{"hconcat":[
{"width":240,"height":162,"layer":[
{"data":{"values":[
{"g":"L","t":0,"s":100},{"g":"L","t":1.1,"s":98.7},{"g":"L","t":3.2,"s":97.4},{"g":"L","t":5.0,"s":96.2},{"g":"L","t":5.5,"s":94.9},{"g":"L","t":6.0,"s":93.6},{"g":"L","t":6.4,"s":92.3},{"g":"L","t":7.1,"s":91.0},{"g":"L","t":7.8,"s":89.7},{"g":"L","t":8.5,"s":88.5},{"g":"L","t":9.7,"s":87.2},{"g":"L","t":10.8,"s":86.0},{"g":"L","t":14.3,"s":84.6},{"g":"L","t":15.7,"s":83.3},{"g":"L","t":20.6,"s":81.9},{"g":"L","t":24.7,"s":79.9},{"g":"L","t":30.3,"s":78.8},{"g":"L","t":38.9,"s":77.8},{"g":"L","t":40.7,"s":76.4},{"g":"L","t":43.5,"s":74.9},{"g":"L","t":46.9,"s":73.7},{"g":"L","t":49.7,"s":72.9},{"g":"L","t":55.3,"s":71.2},{"g":"L","t":56.0,"s":69.1},{"g":"L","t":56.7,"s":67.7},{"g":"L","t":58.8,"s":66.0},{"g":"L","t":60.8,"s":65.0},{"g":"L","t":90.7,"s":65.0},
{"g":"H","t":0,"s":100},{"g":"H","t":5.6,"s":90.9},{"g":"H","t":6.7,"s":81.8},{"g":"H","t":8.1,"s":63.6},{"g":"H","t":13.6,"s":54.5},{"g":"H","t":45.6,"s":43.6},{"g":"H","t":65.7,"s":43.6}
]},
"mark":{"type":"line","interpolate":"step-after","strokeWidth":1.2},
"encoding":{
"x":{"field":"t","type":"quantitative","scale":{"domain":[0,100],"nice":false},"axis":{"title":"Follow-up (months)","values":[0,20,40,60,80,100],"tickCount":30,"labelOverlap":false,"labelFlush":false,"labelFontSize":10,"titleFontSize":11.7,"titlePadding":1,"labelPadding":3}},
"y":{"field":"s","type":"quantitative","scale":{"domain":[0,100],"nice":false},"axis":{"title":"PFS (percentage)","values":[0,20,40,60,80,100],"tickCount":30,"labelOverlap":false,"labelFontSize":10,"titleFontSize":11,"titleX":-29,"titleY":86.7,"titleBaseline":"middle","titleAlign":"center","titleAngle":-90}},
"color":{"field":"g","type":"nominal","scale":{"domain":["L","H"],"range":["#3a9bab","#555555"]},"legend":{"title":null,"orient":"none","legendX":122.6,"legendY":0.6,"padding":0,"symbolType":"M-1,0H1M0,0V-0.3","symbolSize":350,"symbolStrokeWidth":1.2,"labelFontSize":13.3,"labelOffset":8,"rowPadding":2,"labelColor":"#111","labelExpr":"datum.label=='L'?'<20% (n=78)':'≥20% (n=11)'"}}}},
{"data":{"values":[
{"g":"L","t":13.0,"s":86.0},{"g":"L","t":33.7,"s":78.8},{"g":"L","t":47.6,"s":73.7},{"g":"L","t":50.7,"s":72.9},{"g":"L","t":52.5,"s":72.9},{"g":"L","t":54.2,"s":72.9},{"g":"L","t":57.5,"s":67.7},{"g":"L","t":59.5,"s":66.0},{"g":"L","t":61.5,"s":65.0},{"g":"L","t":62.4,"s":65.0},{"g":"L","t":63.2,"s":65.0},{"g":"L","t":64.0,"s":65.0},{"g":"L","t":64.9,"s":65.0},{"g":"L","t":65.8,"s":65.0},{"g":"L","t":66.7,"s":65.0},{"g":"L","t":68.1,"s":65.0},{"g":"L","t":70.8,"s":65.0},{"g":"L","t":73.3,"s":65.0},{"g":"L","t":76.1,"s":65.0},{"g":"L","t":84.4,"s":65.0},{"g":"L","t":88.6,"s":65.0},{"g":"L","t":90.7,"s":65.0},
{"g":"H","t":35.6,"s":54.5},{"g":"H","t":60.8,"s":43.6},{"g":"H","t":63.9,"s":43.6},{"g":"H","t":65.7,"s":43.6}
]},
"mark":{"type":"point","shape":"M0,0.3V-1","size":25,"filled":false,"strokeWidth":1,"opacity":1},
"encoding":{"x":{"field":"t","type":"quantitative"},"y":{"field":"s","type":"quantitative"},"color":{"field":"g","type":"nominal","scale":{"domain":["L","H"],"range":["#3a9bab","#555555"]}}}},
{"data":{"values":[{"t":"E"}]},"mark":{"type":"text","fontSize":13,"fontWeight":"bold","align":"left","baseline":"middle","dx":-49,"dy":-25},
"encoding":{"x":{"datum":0,"type":"quantitative"},"y":{"datum":100,"type":"quantitative"},"text":{"field":"t"}}},
{"data":{"values":[{"t":"GCB-DLBCL"}]},"mark":{"type":"text","fontSize":12,"fontWeight":"bold","align":"center","baseline":"middle","dx":8,"dy":-14.3},
"encoding":{"x":{"datum":50,"type":"quantitative"},"y":{"datum":100,"type":"quantitative"},"text":{"field":"t"}}},
{"data":{"values":[{"t":"P"}]},"mark":{"type":"text","fontSize":15,"fontStyle":"italic","align":"left","baseline":"middle"},
"encoding":{"x":{"datum":6.2,"type":"quantitative"},"y":{"datum":13.4,"type":"quantitative"},"text":{"field":"t"}}},
{"data":{"values":[{"t":"=0.0987"}]},"mark":{"type":"text","fontSize":15,"align":"left","baseline":"middle","dx":10},
"encoding":{"x":{"datum":6.2,"type":"quantitative"},"y":{"datum":13.4,"type":"quantitative"},"text":{"field":"t"}}}
]},
{"width":244,"height":163,"layer":[
{"data":{"values":[
{"g":"L","t":0,"s":100},{"g":"L","t":0.7,"s":98.2},{"g":"L","t":2.0,"s":96.4},{"g":"L","t":3.4,"s":94.6},{"g":"L","t":4.1,"s":92.9},{"g":"L","t":5.5,"s":91.1},{"g":"L","t":6.9,"s":89.3},{"g":"L","t":7.9,"s":87.5},{"g":"L","t":8.7,"s":85.7},{"g":"L","t":9.6,"s":83.9},{"g":"L","t":10.6,"s":82.1},{"g":"L","t":11.4,"s":80.4},{"g":"L","t":12.0,"s":78.6},{"g":"L","t":12.4,"s":76.8},{"g":"L","t":13.2,"s":75.0},{"g":"L","t":14.0,"s":73.2},{"g":"L","t":15.0,"s":71.4},{"g":"L","t":16.0,"s":69.6},{"g":"L","t":28.2,"s":67.8},{"g":"L","t":28.9,"s":66.1},{"g":"L","t":31.7,"s":64.3},{"g":"L","t":33.1,"s":62.5},{"g":"L","t":35.1,"s":60.7},{"g":"L","t":36.5,"s":58.9},{"g":"L","t":39.3,"s":57.1},{"g":"L","t":48.2,"s":55.6},{"g":"L","t":50.3,"s":54.0},{"g":"L","t":59.2,"s":51.6},{"g":"L","t":95.7,"s":51.6},
{"g":"H","t":0,"s":100},{"g":"H","t":2.5,"s":92.3},{"g":"H","t":3.2,"s":84.6},{"g":"H","t":4.0,"s":76.9},{"g":"H","t":10.3,"s":69.2},{"g":"H","t":11.4,"s":61.5},{"g":"H","t":11.8,"s":53.8},{"g":"H","t":17.9,"s":46.2},{"g":"H","t":25.5,"s":38.5},{"g":"H","t":45.9,"s":30.8},{"g":"H","t":73.7,"s":30.8}
]},
"mark":{"type":"line","interpolate":"step-after","strokeWidth":1.2},
"encoding":{
"x":{"field":"t","type":"quantitative","scale":{"domain":[0,100],"nice":false},"axis":{"title":"Follow-up (months)","values":[0,20,40,60,80,100],"tickCount":30,"labelOverlap":false,"labelFlush":false,"labelFontSize":10,"titleFontSize":12,"titlePadding":1,"labelPadding":3}},
"y":{"field":"s","type":"quantitative","scale":{"domain":[0,100],"nice":false},"axis":{"title":"PFS (percentage)","values":[0,20,40,60,80,100],"tickCount":30,"labelOverlap":false,"labelFontSize":10,"titleFontSize":12.7,"titleX":-30,"titleY":80,"titleBaseline":"middle","titleAlign":"center","titleAngle":-90}},
"color":{"field":"g","type":"nominal","scale":{"domain":["L","H"],"range":["#3a9bab","#555555"]},"legend":{"title":null,"orient":"none","legendX":143.4,"legendY":-1.6,"padding":0,"symbolType":"M-1,0H1M0,0V-0.3","symbolSize":350,"symbolStrokeWidth":1.2,"labelFontSize":13.3,"labelOffset":8,"rowPadding":2,"labelColor":"#111","labelExpr":"datum.label=='L'?'<20% (n=56)':'≥20% (n=13)'"}}}},
{"data":{"values":[
{"g":"L","t":49.2,"s":55.6},{"g":"L","t":51.5,"s":54.0},{"g":"L","t":53.0,"s":54.0},{"g":"L","t":55.5,"s":54.0},{"g":"L","t":63.4,"s":51.6},{"g":"L","t":64.7,"s":51.6},{"g":"L","t":66.1,"s":51.6},{"g":"L","t":66.8,"s":51.6},{"g":"L","t":67.5,"s":51.6},{"g":"L","t":68.5,"s":51.6},{"g":"L","t":69.3,"s":51.6},{"g":"L","t":70.9,"s":51.6},{"g":"L","t":73.0,"s":51.6},{"g":"L","t":75.1,"s":51.6},{"g":"L","t":77.8,"s":51.6},{"g":"L","t":81.7,"s":51.6},{"g":"L","t":93.0,"s":51.6},{"g":"L","t":95.5,"s":51.6},
{"g":"H","t":51.7,"s":30.8},{"g":"H","t":58.3,"s":30.8},{"g":"H","t":66.8,"s":30.8},{"g":"H","t":73.7,"s":30.8}
]},
"mark":{"type":"point","shape":"M0,0.3V-1","size":25,"filled":false,"strokeWidth":1,"opacity":1},
"encoding":{"x":{"field":"t","type":"quantitative"},"y":{"field":"s","type":"quantitative"},"color":{"field":"g","type":"nominal","scale":{"domain":["L","H"],"range":["#3a9bab","#555555"]}}}},
{"data":{"values":[{"t":"F"}]},"mark":{"type":"text","fontSize":13,"fontWeight":"bold","align":"left","baseline":"middle","dx":-46,"dy":-25},
"encoding":{"x":{"datum":0,"type":"quantitative"},"y":{"datum":100,"type":"quantitative"},"text":{"field":"t"}}},
{"data":{"values":[{"t":"Non-GCB DLBCL"}]},"mark":{"type":"text","fontSize":12,"fontWeight":"bold","align":"center","baseline":"middle","dx":11.5,"dy":-14.3},
"encoding":{"x":{"datum":50,"type":"quantitative"},"y":{"datum":100,"type":"quantitative"},"text":{"field":"t"}}},
{"data":{"values":[{"t":"P"}]},"mark":{"type":"text","fontSize":15,"fontStyle":"italic","align":"left","baseline":"middle"},
"encoding":{"x":{"datum":5.5,"type":"quantitative"},"y":{"datum":13,"type":"quantitative"},"text":{"field":"t"}}},
{"data":{"values":[{"t":"=0.0873"}]},"mark":{"type":"text","fontSize":15,"align":"left","baseline":"middle","dx":10},
"encoding":{"x":{"datum":5.5,"type":"quantitative"},"y":{"datum":13,"type":"quantitative"},"text":{"field":"t"}}}
]}
],"spacing":48,"resolve":{"scale":{"color":"independent"},"legend":{"color":"independent"}}}
],"spacing":37,"resolve":{"scale":{"color":"independent"},"legend":{"color":"independent"}}}
]
}
